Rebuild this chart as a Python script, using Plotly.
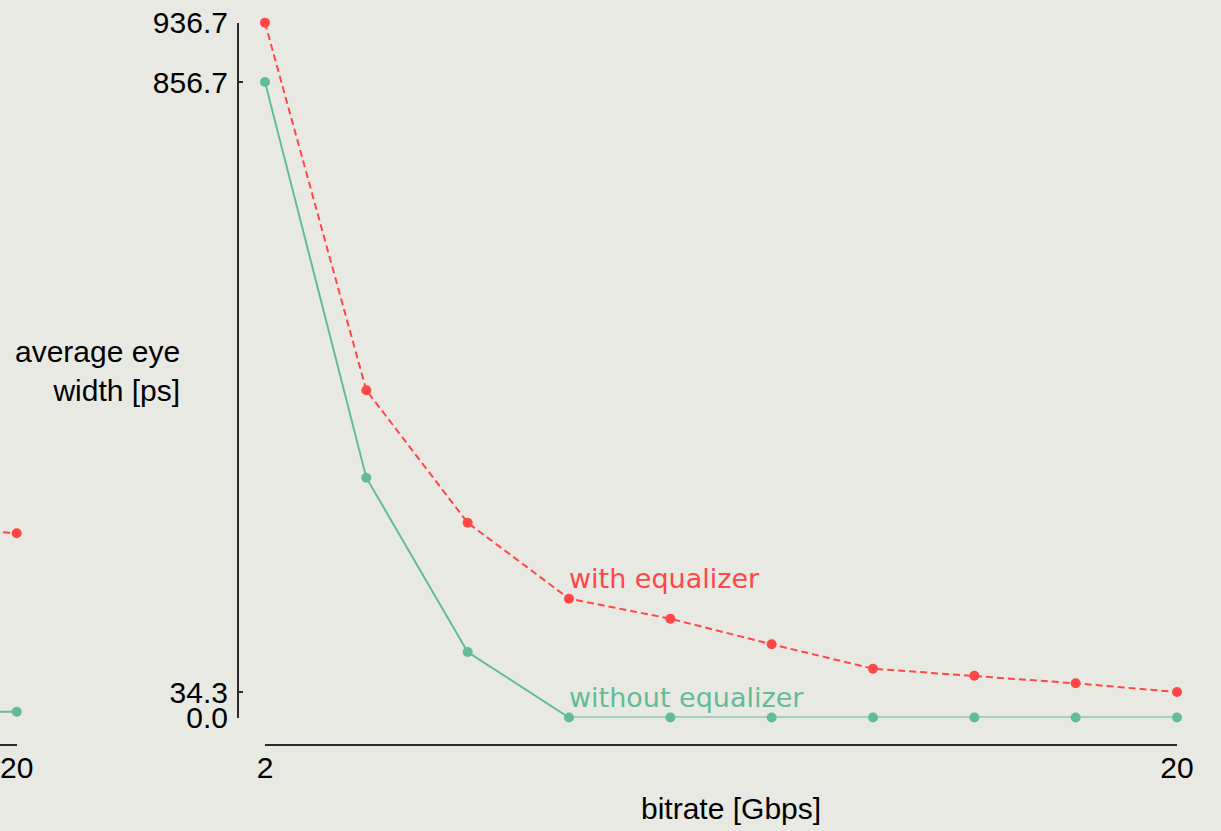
import plotly.graph_objects as go

# ---- data ----
bitrate = [2, 4, 6, 8, 10, 12, 14, 16, 18, 20]
with_eq = [936.7, 441.1, 262.6, 160.2, 133.2, 98.7, 65.8, 56.4, 46.1, 34.3]
without_eq = [856.7, 323.3, 88.3, 0.0, 0.0, 0.0, 0.0, 0.0, 0.0, 0.0]

# partially visible neighbouring panel (only its right edge is in view)
left_bitrate = [18, 20]
left_with_eq = [259.0, 248.3]
left_without_eq = [7.8, 7.8]

x_ticks = [min(bitrate), max(bitrate)]
y_ticks = sorted({min(with_eq), max(with_eq), min(without_eq), max(without_eq)})
y_ticktext = [f"{v:.1f}" for v in y_ticks]

label_with = "with equalizer"
label_without = "without equalizer"
x_title = "bitrate [Gbps]"
y_title = "average eye<br>width [ps]"

RED = "#FF4747"
GREEN = "#62BC96"
BG = "#E9E9E4"
AXC = "#2b2b2b"
FONT = "Liberation Sans, Arial, sans-serif"
ANN_FONT = "DejaVu Sans, sans-serif"

W, H = 1221, 831
px = lambda v: v / W
py = lambda v: 1 - v / H

fig = go.Figure()

def add_series(xs, ys, color, dash, xa, ya):
    fig.add_trace(go.Scatter(
        x=xs, y=ys, mode="lines+markers",
        line=dict(color=color, width=2, dash=dash),
        marker=dict(color=color, size=10),
        cliponaxis=False, showlegend=False, xaxis=xa, yaxis=ya))

add_series(bitrate, with_eq, RED, "7px,4px", "x", "y")
add_series(bitrate, without_eq, GREEN, "solid", "x", "y")
add_series(left_bitrate, left_with_eq, RED, "7px,4px", "x2", "y2")
add_series(left_bitrate, left_without_eq, GREEN, "solid", "x2", "y2")

y_dom = [py(717.5), py(22.7)]
x_axis_pos = py(744.5)

common_axis = dict(showgrid=False, zeroline=False, showline=True,
                   linecolor=AXC, linewidth=1.5, ticks="inside",
                   tickcolor=AXC, tickwidth=1.5, ticklen=5, automargin=False,
                   tickfont=dict(family=FONT, size=30, color="black"))

fig.update_layout(
    width=W, height=H,
    margin=dict(l=0, r=0, t=0, b=0, autoexpand=False),
    paper_bgcolor=BG, plot_bgcolor=BG,
    xaxis=dict(domain=[px(265), px(1177)], range=[min(bitrate), max(bitrate)],
               anchor="free", position=x_axis_pos,
               tickmode="array", tickvals=x_ticks, ticklabelstandoff=-3,
               **common_axis),
    yaxis=dict(domain=y_dom, range=[min(y_ticks), max(y_ticks)],
               anchor="free", position=px(237.7),
               tickmode="array", tickvals=y_ticks, ticktext=y_ticktext,
               ticklabelstandoff=3, **common_axis),
    xaxis2=dict(domain=[0, px(16.7)], range=[20 - 16.7 / (912 / 18), 20],
                anchor="free", position=x_axis_pos,
                tickmode="array", tickvals=[max(left_bitrate)],
                ticklabelstandoff=-3, **common_axis),
    yaxis2=dict(domain=y_dom, range=[min(y_ticks), max(y_ticks)],
                anchor="x2", visible=False, automargin=False),
)

fig.add_annotation(x=bitrate[3], y=with_eq[3], xref="x", yref="y",
                   text=label_with, showarrow=False, xanchor="left",
                   yanchor="middle", xshift=-2, yshift=20,
                   font=dict(family=ANN_FONT, size=27, color=RED))
fig.add_annotation(x=bitrate[3], y=without_eq[3], xref="x", yref="y",
                   text=label_without, showarrow=False, xanchor="left",
                   yanchor="middle", xshift=-2, yshift=20,
                   font=dict(family=ANN_FONT, size=27, color=GREEN))

fig.add_annotation(x=px(730.5), y=py(808), xref="paper", yref="paper",
                   text=x_title, showarrow=False, xanchor="center",
                   yanchor="middle",
                   font=dict(family=FONT, size=30, color="black"))
fig.add_annotation(x=px(182), y=py(371), xref="paper", yref="paper",
                   text=y_title, showarrow=False, xanchor="right",
                   yanchor="middle", align="right",
                   font=dict(family=FONT, size=30, color="black"))

fig.write_html("out.html")
